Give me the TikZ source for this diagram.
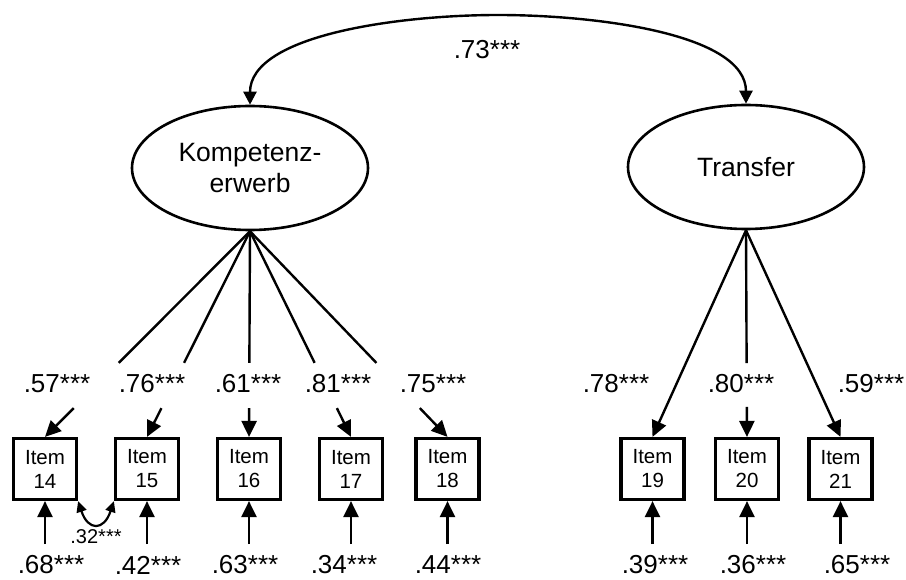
\documentclass[tikz,border=0pt]{standalone}
\usepackage{fontspec}
\setmainfont{Liberation Sans}
\usetikzlibrary{shapes.geometric,arrows.meta,calc}
\begin{document}
\begin{tikzpicture}[x=1pt,y=1pt,
  lat/.style={ellipse, draw, line width=2.6pt, minimum width=236pt, minimum height=124pt, inner sep=0pt, align=center, font=\fontsize{26.5}{31}\selectfont},
  itembox/.style={draw, line width=3.2pt, minimum width=63pt, minimum height=61pt, inner sep=0pt, align=center, font=\fontsize{20.5}{24}\selectfont},
  lab/.style={inner sep=0pt, font=\fontsize{26}{30}\selectfont},
  smalllab/.style={inner sep=0pt, font=\fontsize{20}{24}\selectfont},
  ln/.style={line width=2.4pt},
  arr/.style={line width=2.4pt, -{Triangle[length=16pt,width=15pt]}},
  toparr/.style={line width=2.4pt, {Triangle[length=13pt,width=13pt]}-{Triangle[length=13pt,width=13pt]}},
  carr/.style={line width=2.2pt, {Triangle[length=11pt,width=10pt]}-{Triangle[length=11pt,width=10pt]}}
]
\useasboundingbox (0,0) rectangle (906,579);

% latent variables
\node[lat] (K) at (250,411) {Kompetenz-\\erwerb};
\node[lat] (T) at (746,412) {Transfer};

% items
\node[itembox] (i14) at (45,110) {Item\\14};
\node[itembox] (i15) at (147,110) {Item\\15};
\node[itembox] (i16) at (249,110) {Item\\16};
\node[itembox] (i17) at (351,110) {Item\\17};
\node[itembox] (i18) at (447.5,110) {Item\\18};
\node[itembox] (i19) at (652.5,110) {Item\\19};
\node[itembox] (i20) at (747,110) {Item\\20};
\node[itembox] (i21) at (840.5,110) {Item\\21};

% correlation between latents
\draw[toparr] (K.north) .. controls +(0,70) and (400,564) .. (498,564)
  .. controls (596,564) and +(0,70) .. (T.north);
\node[lab] (r) at (487,529) {.73***};

% loadings Kompetenzerwerb
\foreach \i in {14,15,16,17,18}{
  \draw[ln] (K.south) -- ($(K.south)!0.64!(i\i.north)$);
  \draw[arr] ($(K.south)!0.86!(i\i.north)$) -- (i\i.north);
}
% loadings Transfer
\draw[arr] (T.south) -- (i19.north);
\draw[ln] (T.south) -- ($(T.south)!0.643!(i20.north)$);
\draw[arr] ($(T.south)!0.855!(i20.north)$) -- (i20.north);
\draw[arr] (T.south) -- (i21.north);

% loading labels
\node[lab] (l14) at (57,195) {.57***};
\node[lab] (l15) at (152,195) {.76***};
\node[lab] (l16) at (248,195) {.61***};
\node[lab] (l17) at (338,195) {.81***};
\node[lab] (l18) at (433,195) {.75***};
\node[lab] (l19) at (616,195) {.78***};
\node[lab] (l20) at (741,195) {.80***};
\node[lab] (l21) at (871,195) {.59***};

% error arrows
\foreach \i in {14,15,16,17,18,19,20,21}{
  \draw[arr] ($(i\i.south)+(0,-43)$) -- (i\i.south);
}
% error labels
\node[lab] (e14) at (51,14) {.68***};
\node[lab] (e15) at (148,14) {.42***};
\node[lab] (e16) at (245,14) {.63***};
\node[lab] (e17) at (344,14) {.34***};
\node[lab] (e18) at (448,14) {.44***};
\node[lab] (e19) at (655,14) {.39***};
\node[lab] (e20) at (753,14) {.36***};
\node[lab] (e21) at (857,14) {.65***};

% residual correlation
\draw[carr] (i14.south east) .. controls +(10,-30) and +(-10,-30) .. (i15.south west);
\node[smalllab] (c) at (96,42) {.32***};
\end{tikzpicture}
\end{document}
